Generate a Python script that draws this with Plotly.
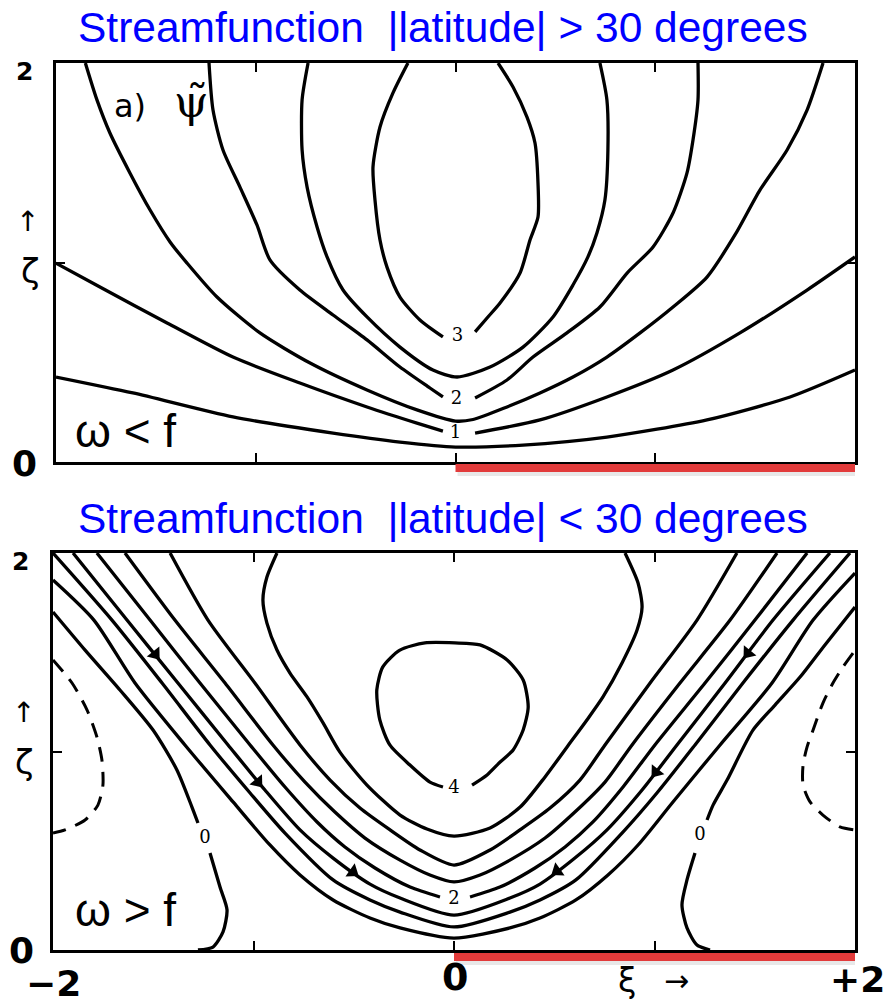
import plotly.graph_objects as go

W, H = 885, 1003

# ---------------- Panel (a): |latitude| > 30 deg  (xi, zeta) points ----------------
TOP_PSI05 = [(-2.0, 0.426), (-1.615, 0.346), (-1.114, 0.226), (-0.613, 0.145), (-0.278, 0.100), (0.0, 0.075),
             (0.338, 0.085), (0.758, 0.125), (1.259, 0.211), (1.675, 0.326), (2.0, 0.461)]
TOP_PSI1_L = [(-2.0, 0.997), (-1.780, 0.877), (-1.444, 0.697), (-1.114, 0.526), (-0.779, 0.396), (-0.443, 0.276),
              (-0.193, 0.195), (-0.063, 0.155)]
TOP_PSI1_R = [(0.098, 0.145), (0.423, 0.211), (0.758, 0.326), (1.089, 0.461), (1.424, 0.647), (1.760, 0.862),
              (2.0, 1.028)]
TOP_PSI15 = [(-1.853, 2.0), (-1.795, 1.815), (-1.730, 1.649), (-1.630, 1.449), (-1.529, 1.263), (-1.429, 1.103),
             (-1.344, 0.997), (-1.194, 0.827), (-0.979, 0.647), (-0.728, 0.496), (-0.443, 0.361), (-0.193, 0.261),
             (0.0, 0.205), (0.088, 0.213), (0.258, 0.276), (0.423, 0.346), (0.588, 0.426), (0.758, 0.526),
             (0.924, 0.647), (1.089, 0.777), (1.259, 0.927), (1.399, 1.138), (1.524, 1.363), (1.660, 1.564),
             (1.760, 1.764), (1.840, 2.0)]
TOP_PSI2_L = [(-1.234, 2.0), (-1.214, 1.764), (-1.164, 1.564), (-1.079, 1.378), (-0.994, 1.188), (-0.929, 1.013),
              (-0.779, 0.862), (-0.613, 0.737), (-0.443, 0.612), (-0.278, 0.476), (-0.128, 0.371), (-0.063, 0.326)]
TOP_PSI2_R = [(0.098, 0.321), (0.258, 0.411), (0.388, 0.526), (0.558, 0.647), (0.723, 0.777), (0.859, 0.947),
              (0.989, 1.078), (1.089, 1.248), (1.159, 1.449), (1.189, 1.614), (1.214, 1.815), (1.214, 2.0)]
TOP_PSI25 = [(-0.738, 2.0), (-0.768, 1.815), (-0.768, 1.564), (-0.743, 1.378), (-0.693, 1.178), (-0.643, 1.028),
             (-0.563, 0.862), (-0.443, 0.727), (-0.278, 0.576), (-0.113, 0.461), (0.008, 0.426), (0.173, 0.476),
             (0.338, 0.576), (0.488, 0.727), (0.588, 0.887), (0.663, 1.028), (0.708, 1.148), (0.748, 1.313),
             (0.763, 1.564), (0.758, 1.815), (0.723, 2.0)]
TOP_PSI3_L = [(-0.238, 2.0), (-0.313, 1.850), (-0.378, 1.679), (-0.413, 1.479), (-0.403, 1.313), (-0.378, 1.113),
              (-0.343, 0.977), (-0.278, 0.827), (-0.178, 0.712), (-0.063, 0.627)]
TOP_PSI3_R = [(0.098, 0.652), (0.158, 0.722), (0.223, 0.797), (0.323, 0.947), (0.373, 1.113), (0.413, 1.228),
              (0.413, 1.398), (0.398, 1.599), (0.358, 1.729), (0.288, 1.880), (0.213, 2.0)]
TOP_LABEL_TEXT = ["3", "2", "1"]
TOP_LABEL_XI = [0.01, 0.005, 0.0]
TOP_LABEL_ZETA = [0.627, 0.311, 0.145]

# ---------------- Panel (b): |latitude| < 30 deg ----------------
BOT_PSI0_LU = [(-2.0, 1.703), (-1.840, 1.511), (-1.666, 1.310), (-1.501, 1.108), (-1.382, 0.907), (-1.307, 0.720),
               (-1.277, 0.640)]
BOT_PSI0_LL = [(-1.217, 0.489), (-1.167, 0.317), (-1.132, 0.202), (-1.152, 0.091), (-1.202, 0.015), (-1.277, 0.0)]
BOT_PSI0_RU = [(2.0, 1.728), (1.850, 1.537), (1.726, 1.375), (1.601, 1.234), (1.491, 1.108), (1.362, 0.856),
               (1.292, 0.730), (1.262, 0.655)]
BOT_PSI0_RL = [(1.202, 0.489), (1.162, 0.353), (1.137, 0.227), (1.162, 0.111), (1.212, 0.025), (1.277, 0.0)]
BOT_PSI05 = [(-2.0, 1.864), (-1.796, 1.662), (-1.591, 1.345), (-1.342, 1.033), (-1.102, 0.746), (-0.918, 0.529),
             (-0.768, 0.378), (-0.603, 0.252), (-0.419, 0.161), (-0.269, 0.111), (0.0, 0.060), (0.279, 0.111),
             (0.429, 0.161), (0.608, 0.252), (0.768, 0.378), (0.918, 0.529), (1.092, 0.746), (1.327, 1.033),
             (1.586, 1.345), (1.791, 1.662), (2.0, 1.899)]
BOT_PSI1 = [(-2.0, 2.0), (-1.706, 1.662), (-1.456, 1.345), (-1.217, 1.033), (-1.017, 0.791), (-0.843, 0.589),
            (-0.603, 0.353), (-0.419, 0.252), (-0.269, 0.191), (0.0, 0.116), (0.279, 0.191), (0.429, 0.252),
            (0.608, 0.353), (0.838, 0.589), (1.012, 0.791), (1.202, 1.033), (1.441, 1.345), (1.691, 1.662),
            (1.975, 2.0)]
BOT_PSI15 = [(-1.900, 2.0), (-1.631, 1.662), (-1.377, 1.345), (-1.127, 1.033), (-0.943, 0.806), (-0.768, 0.605),
             (-0.603, 0.463), (-0.419, 0.332), (-0.269, 0.262), (0.0, 0.176), (0.279, 0.262), (0.429, 0.332),
             (0.603, 0.463), (0.763, 0.605), (0.938, 0.806), (1.112, 1.033), (1.352, 1.345), (1.591, 1.662),
             (1.875, 2.0)]
BOT_PSI2_L = [(-1.781, 2.0), (-1.516, 1.662), (-1.267, 1.345), (-1.017, 1.033), (-0.843, 0.821), (-0.683, 0.645),
              (-0.544, 0.519), (-0.394, 0.413), (-0.219, 0.317), (-0.07, 0.267)]
BOT_PSI2_R = [(0.08, 0.267), (0.229, 0.317), (0.404, 0.413), (0.554, 0.519), (0.693, 0.645), (0.843, 0.821),
              (1.002, 1.033), (1.252, 1.345), (1.501, 1.662), (1.761, 2.0)]
BOT_PSI25 = [(-1.641, 2.0), (-1.392, 1.662), (-1.142, 1.345), (-0.903, 1.033), (-0.743, 0.846), (-0.594, 0.695),
             (-0.444, 0.564), (-0.269, 0.453), (-0.120, 0.378), (0.0, 0.343), (0.130, 0.378), (0.279, 0.453),
             (0.454, 0.564), (0.603, 0.695), (0.753, 0.846), (0.888, 1.033), (1.127, 1.345), (1.377, 1.662),
             (1.611, 2.0)]
BOT_PSI3 = [(-1.416, 2.0), (-1.227, 1.662), (-0.993, 1.345), (-0.768, 1.033), (-0.618, 0.856), (-0.469, 0.715),
            (-0.319, 0.605), (-0.170, 0.504), (0.0, 0.428), (0.180, 0.504), (0.329, 0.605), (0.479, 0.715),
            (0.628, 0.856), (0.753, 1.033), (0.978, 1.345), (1.212, 1.662), (1.411, 2.0)]
BOT_PSI35 = [(-0.883, 2.0), (-0.933, 1.879), (-0.953, 1.763), (-0.933, 1.647), (-0.883, 1.511), (-0.818, 1.395),
             (-0.733, 1.275), (-0.653, 1.144), (-0.569, 0.997), (-0.434, 0.831), (-0.269, 0.680), (-0.135, 0.610),
             (0.0, 0.574), (0.180, 0.615), (0.330, 0.720), (0.454, 0.872), (0.564, 1.023), (0.663, 1.159),
             (0.743, 1.275), (0.838, 1.446), (0.913, 1.612), (0.938, 1.728), (0.918, 1.849), (0.853, 2.0)]
BOT_PSI4 = [(0.09, 0.831), (0.165, 0.882), (0.23, 0.947), (0.295, 1.008), (0.345, 1.108), (0.37, 1.224),
            (0.345, 1.36), (0.265, 1.461), (0.13, 1.537), (0.005, 1.547), (-0.145, 1.547), (-0.27, 1.511),
            (-0.355, 1.426), (-0.385, 1.31), (-0.37, 1.159), (-0.32, 1.033), (-0.22, 0.932), (-0.12, 0.846),
            (-0.055, 0.821)]
BOT_DASH_L = [(-2.0, 1.461), (-1.905, 1.345), (-1.830, 1.209), (-1.781, 1.073), (-1.756, 0.957), (-1.751, 0.831),
              (-1.776, 0.730), (-1.840, 0.655), (-1.940, 0.605), (-2.0, 0.589)]
BOT_DASH_R = [(1.99, 1.496), (1.940, 1.426), (1.890, 1.345), (1.840, 1.244), (1.791, 1.108), (1.761, 1.023),
              (1.741, 0.932), (1.741, 0.831), (1.776, 0.746), (1.840, 0.680), (1.925, 0.620), (2.0, 0.605)]
BOT_LABEL_TEXT = ["4", "2", "0", "0"]
BOT_LABEL_XI = [0.0, 0.0, -1.242, 1.227]
BOT_LABEL_ZETA = [0.816, 0.252, 0.564, 0.579]
ARROW_XI = [-1.49, -0.978, -0.504, 1.466, 1.007, 0.514]
ARROW_ZETA = [1.49, 0.846, 0.393, 1.496, 0.897, 0.398]
ARROW_ANGLE = [141, 141, 125, 219, 219, 235]


def fx(p):
    return p / W


def fy(p):
    return 1 - p / H


fig = go.Figure()


def add_line(pts, xa, ya, dash=None, width=3.3):
    fig.add_trace(go.Scatter(
        x=[p[0] for p in pts], y=[p[1] for p in pts], mode="lines", xaxis=xa, yaxis=ya,
        line=dict(color="black", width=width, shape="spline", smoothing=0.7, dash=dash),
        hoverinfo="skip", showlegend=False))


for c in [TOP_PSI05, TOP_PSI1_L, TOP_PSI1_R, TOP_PSI15, TOP_PSI2_L, TOP_PSI2_R, TOP_PSI25, TOP_PSI3_L, TOP_PSI3_R]:
    add_line(c, "x", "y")

for c in [BOT_PSI0_LU, BOT_PSI0_LL, BOT_PSI0_RU, BOT_PSI0_RL, BOT_PSI05, BOT_PSI1, BOT_PSI15, BOT_PSI2_L,
          BOT_PSI2_R, BOT_PSI25, BOT_PSI3, BOT_PSI35, BOT_PSI4]:
    add_line(c, "x2", "y2")
for c in [BOT_DASH_L, BOT_DASH_R]:
    add_line(c, "x2", "y2", dash="15px,10px", width=3.0)

fig.add_trace(go.Scatter(
    x=ARROW_XI, y=ARROW_ZETA, mode="markers", xaxis="x2", yaxis="y2",
    marker=dict(symbol="triangle-up", size=14, color="black", angle=ARROW_ANGLE, line=dict(width=0)),
    hoverinfo="skip", showlegend=False))

# contour value labels
fig.add_trace(go.Scatter(x=TOP_LABEL_XI, y=TOP_LABEL_ZETA, text=TOP_LABEL_TEXT, mode="text", xaxis="x", yaxis="y",
                         textfont=dict(family="DejaVu Serif", size=18, color="black"),
                         hoverinfo="skip", showlegend=False))
fig.add_trace(go.Scatter(x=BOT_LABEL_XI, y=BOT_LABEL_ZETA, text=BOT_LABEL_TEXT, mode="text", xaxis="x2", yaxis="y2",
                         textfont=dict(family="DejaVu Serif", size=18, color="black"),
                         hoverinfo="skip", showlegend=False))

ax_common = dict(showgrid=False, zeroline=False, showline=True, linecolor="black", linewidth=3,
                 mirror="ticks", ticks="inside", ticklen=9, tickwidth=2, tickcolor="black",
                 showticklabels=False, fixedrange=True)

fig.update_layout(
    width=W, height=H, margin=dict(l=0, r=0, t=0, b=0),
    paper_bgcolor="white", plot_bgcolor="white",
    xaxis=dict(domain=[fx(56), fx(855)], range=[-2, 2], tickvals=[-1, 0, 1], anchor="y", **ax_common),
    yaxis=dict(domain=[fy(462), fy(63)], range=[0, 2], tickvals=[1], anchor="x", **ax_common),
    xaxis2=dict(domain=[fx(53), fx(855)], range=[-2, 2], tickvals=[-1, 0, 1], anchor="y2", **ax_common),
    yaxis2=dict(domain=[fy(950), fy(553)], range=[0, 2], tickvals=[1], anchor="x2", **ax_common),
)

# red bars under the xi > 0 half of each panel
for xr, yc in [("x", 468), ("x2", 957)]:
    fig.add_shape(type="rect", xref=xr, yref="paper", x0=0.01, x1=2.01, y0=fy(yc + 8), y1=fy(yc + 2),
                  fillcolor="rgba(0,0,0,0.09)", line=dict(width=0))
    fig.add_shape(type="rect", xref=xr, yref="paper", x0=0.0, x1=2.01, y0=fy(yc + 4), y1=fy(yc - 4),
                  fillcolor="#e23b3b", line=dict(width=0))

ann = []
title_font = dict(family="Liberation Sans, Arial", size=42.5, color="#0000ff")
ann.append(dict(text="Streamfunction\u00a0 |latitude| &gt; 30 degrees", x=0.5, y=fy(28), xref="paper", yref="paper",
                xanchor="center", yanchor="middle", showarrow=False, font=title_font))
ann.append(dict(text="Streamfunction\u00a0 |latitude| &lt; 30 degrees", x=0.5, y=fy(518), xref="paper", yref="paper",
                xanchor="center", yanchor="middle", showarrow=False, font=title_font))
om_font = dict(family="Liberation Sans, Arial", size=46, color="black")
ann.append(dict(text="ω &lt; f", x=fx(73), y=fy(431), xref="paper", yref="paper", xanchor="left",
                yanchor="middle", showarrow=False, font=om_font))
ann.append(dict(text="ω &gt; f", x=fx(73), y=fy(910), xref="paper", yref="paper", xanchor="left",
                yanchor="middle", showarrow=False, font=om_font))

lab_family = "DejaVu Sans"
for txt, x, y, size in [("<b>2</b>", 24, 71, 25), ("↑", 27, 222, 28), ("ζ", 30, 271, 34), ("<b>0</b>", 24, 463, 36),
                        ("<b>2</b>", 20, 561, 25), ("↑", 23, 712, 28), ("ζ", 24, 762, 34), ("<b>0</b>", 21, 950, 36),
                        ("<b>−2</b>", 53, 983, 36), ("<b>0</b>", 455, 977, 38), ("ξ", 627, 980, 33),
                        ("→", 676, 980, 30), ("<b>+2</b>", 857, 979, 36)]:
    ann.append(dict(text=txt, x=fx(x), y=fy(y), xref="paper", yref="paper", xanchor="center", yanchor="middle",
                    showarrow=False, font=dict(family=lab_family, size=size, color="black")))

ann.append(dict(text="a)", x=fx(130), y=fy(106), xref="paper", yref="paper", xanchor="center", yanchor="middle",
                showarrow=False, font=dict(family="DejaVu Sans", size=32, color="black")))
ann.append(dict(text="ψ\u0303", x=fx(191), y=fy(102), xref="paper", yref="paper", xanchor="center",
                yanchor="middle", showarrow=False, font=dict(family="DejaVu Serif", size=44, color="black")))

fig.update_layout(annotations=ann)
fig.write_html("out.html", config={"displayModeBar": False},
               post_script="document.body.style.margin='0';document.body.style.overflow='hidden';")
